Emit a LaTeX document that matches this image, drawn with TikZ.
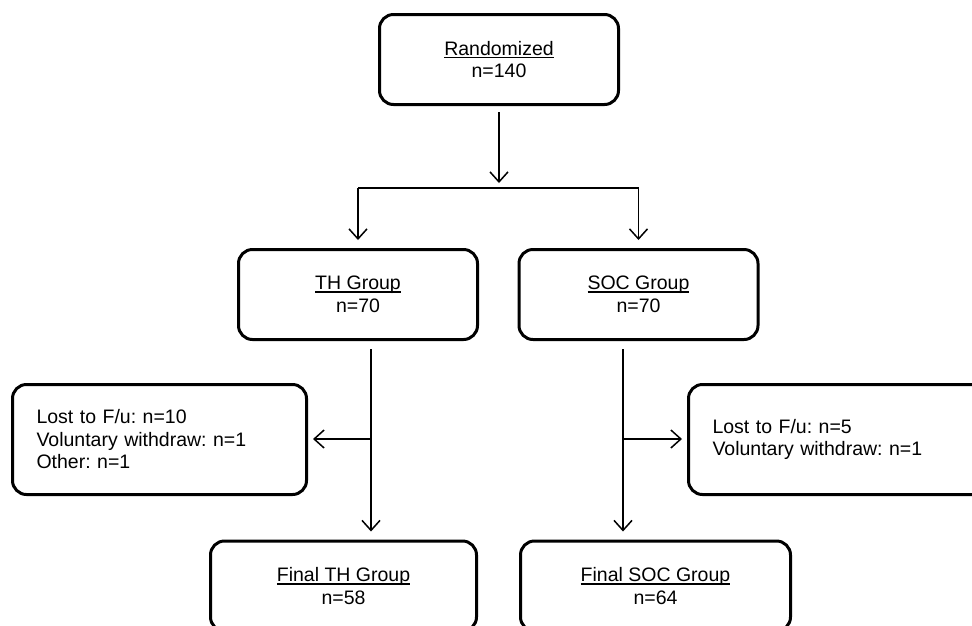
\documentclass[tikz,border=0pt]{standalone}
\usepackage{fontspec}
\setmainfont{Liberation Sans}
\usetikzlibrary{arrows.meta}
\frenchspacing
\newcommand{\uln}[1]{\setbox0\hbox{#1}\rlap{\rule[-3pt]{\wd0}{1.5pt}}\box0}
\tikzstyle{arrow} = [-{Straight Barb[length=10pt,width=18pt]}, line width=1.5pt]
\tikzstyle{block} = [rectangle, draw, line width=3pt, rounded corners=14pt, align=center,
inner sep=0pt, minimum width=239pt, minimum height=90pt, font=\fontsize{19.5}{22.5}\selectfont]
\tikzstyle{note} = [block, align=left, inner xsep=24pt, minimum height=110pt]

\begin{document}
\begin{tikzpicture}[x=1pt, y=-1pt]
				\clip (0,0) rectangle (972,625);
				% Place nodes
				\node (rand) [block] at (499,59.5) {\uln{Randomized}\\n=140};
				\node (th) [block] at (358,294.5) {\uln{TH Group}\\n=70};
				\node (soc) [block] at (638.5,294.5) {\uln{SOC Group}\\n=70};
				\node (exth) [note, text width=246pt] at (159.5,439.5) {Lost to F/u: n=10\\Voluntary withdraw: n=1\\Other: n=1};
				\node (exsoc) [note, text width=262pt] at (843.5,439.5) {Lost to F/u: n=5\\Voluntary withdraw: n=1};
				\node (fth) [block, minimum width=266pt] at (343.5,586) {\uln{Final TH Group}\\n=58};
				\node (fsoc) [block, minimum width=270pt] at (655.5,586) {\uln{Final SOC Group}\\n=64};
				\coordinate (split) at (499,188);
				\coordinate (thsplit) at (371,439);
				\coordinate (socsplit) at (623,439);
				
				% Draw arrows
				\draw [arrow, shorten <=6pt, shorten >=5pt] (rand) -- (split);
				\draw [line width=1.5pt] (split -| th.north) -- (split -| soc.north);
				\draw [arrow, shorten >=8pt] (split -| th.north) -- (th.north);
				\draw [arrow, shorten >=8pt] (split -| soc.north) -- (soc.north);
				\draw [arrow, shorten <=8pt, shorten >=8pt] (th.south -| thsplit) -- (fth.north -| thsplit);
				\draw [arrow, shorten >=5pt] (thsplit) -- (exth.east |- thsplit);
				\draw [arrow, shorten <=8pt, shorten >=8pt] (soc.south -| socsplit) -- (fsoc.north -| socsplit);
				\draw [arrow, shorten >=5pt] (socsplit) -- (exsoc.west |- socsplit);

			\end{tikzpicture}
\end{document}
